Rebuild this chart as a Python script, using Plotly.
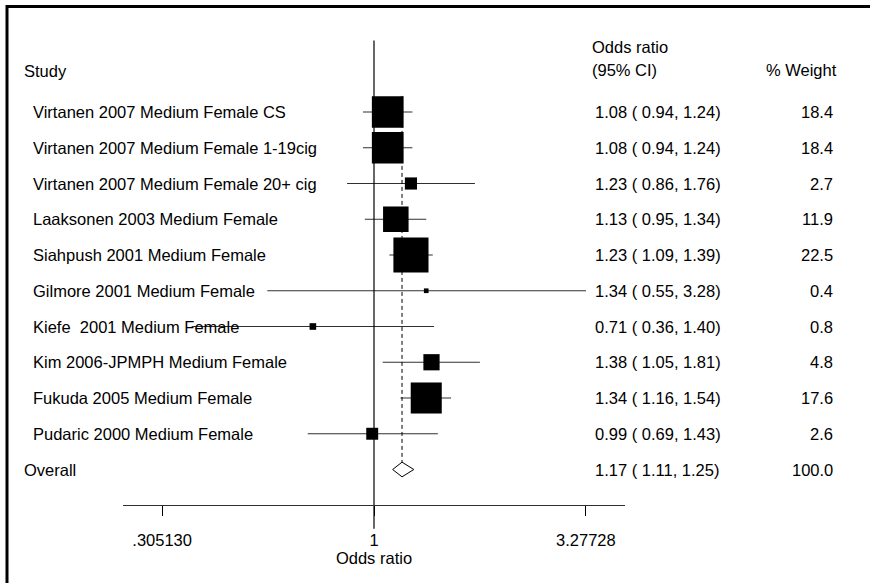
import numpy as np
import plotly.graph_objects as go

# ---------------- data ----------------
studies = [
    "Virtanen 2007 Medium Female CS",
    "Virtanen 2007 Medium Female 1-19cig",
    "Virtanen 2007 Medium Female 20+ cig",
    "Laaksonen 2003 Medium Female",
    "Siahpush 2001 Medium Female",
    "Gilmore 2001 Medium Female",
    "Kiefe  2001 Medium Female",
    "Kim 2006-JPMPH Medium Female",
    "Fukuda 2005 Medium Female",
    "Pudaric 2000 Medium Female",
]
odds_ratio = [1.08, 1.08, 1.23, 1.13, 1.23, 1.34, 0.71, 1.38, 1.34, 0.99]
ci_low = [0.94, 0.94, 0.86, 0.95, 1.09, 0.55, 0.36, 1.05, 1.16, 0.69]
ci_high = [1.24, 1.24, 1.76, 1.34, 1.39, 3.28, 1.40, 1.81, 1.54, 1.43]
weights = [18.4, 18.4, 2.7, 11.9, 22.5, 0.4, 0.8, 4.8, 17.6, 2.6]

overall_label = "Overall"
overall_or = 1.17
overall_low = 1.11
overall_high = 1.25
overall_weight = 100.0

tick_vals = [0.305130, 1, 3.27728]
tick_text = [".305130", "1", "3.27728"]

# ---------------- layout constants ----------------
W, H = 870, 583
FONT = "Liberation Sans, Arial, sans-serif"
FS = 16.5
n = len(studies)
row_top_px, row_step_px = 112, 35.75
y_range = [(H - row_top_px) / row_step_px, -row_top_px / row_step_px]
x_dom = [123 / W, 625 / W]
x_range = [-0.6107, 0.6107]  # log10 units

fig = go.Figure()

# CI lines
xs, ys = [], []
for i in range(n):
    xs += [ci_low[i], ci_high[i], None]
    ys += [i, i, None]
fig.add_trace(go.Scatter(x=xs, y=ys, mode="lines",
                         line=dict(color="#303030", width=1.2),
                         hoverinfo="skip", showlegend=False))

# reference line at OR = 1
fig.add_trace(go.Scatter(x=[1, 1], y=[-2.0, n + 1.66], mode="lines",
                         line=dict(color="black", width=1.2),
                         hoverinfo="skip", showlegend=False))

# overall dashed line
dh = 0.205
fig.add_trace(go.Scatter(x=[overall_or, overall_or], y=[-0.45, n - dh], mode="lines",
                         line=dict(color="black", width=1, dash="4px,3px"),
                         hoverinfo="skip", showlegend=False))

# weight boxes
fig.add_trace(go.Scatter(x=odds_ratio, y=list(range(n)), mode="markers",
                         marker=dict(symbol="square", color="black", opacity=1,
                                     size=[7.4 * np.sqrt(w) for w in weights],
                                     line=dict(width=0)),
                         opacity=1, hoverinfo="skip", showlegend=False))

# overall diamond
fig.add_trace(go.Scatter(x=[overall_low, overall_or, overall_high, overall_or, overall_low],
                         y=[n, n - dh, n, n + dh, n], mode="lines",
                         line=dict(color="black", width=1),
                         hoverinfo="skip", showlegend=False))

# ---------------- text ----------------
ann = []
def txt(x_px, y, s, anchor="left"):
    ann.append(dict(x=x_px / W, xref="paper", y=y, yref="y", text=s,
                    showarrow=False, xanchor=anchor, yanchor="middle",
                    font=dict(family=FONT, size=FS, color="black")))

txt(22, -1.15, "Study")
txt(590, -1.82, "Odds ratio")
txt(590, -1.17, "(95% CI)")
txt(839, -1.17, "% Weight", "right")
for i in range(n):
    txt(31, i, studies[i])
    txt(593, i, f"{odds_ratio[i]:.2f} ( {ci_low[i]:.2f}, {ci_high[i]:.2f})")
    txt(835, i, f"{weights[i]:.1f}", "right")
txt(22, n, overall_label)
txt(593, n, f"{overall_or:.2f} ( {overall_low:.2f}, {overall_high:.2f})")
txt(835, n, f"{overall_weight:.1f}", "right")

fig.update_layout(
    width=W, height=H,
    margin=dict(l=0, r=0, t=0, b=0),
    paper_bgcolor="white", plot_bgcolor="white",
    showlegend=False,
    annotations=ann,
    font=dict(family=FONT, size=FS, color="black"),
    xaxis=dict(type="log", range=x_range, domain=x_dom,
               anchor="free", position=(H - 505) / H,
               showgrid=False, zeroline=False,
               showline=True, linecolor="#303030", linewidth=1.2,
               ticks="outside", ticklen=10, tickwidth=1, tickcolor="black",
               tickvals=tick_vals, ticktext=tick_text,
               ticklabelstandoff=10, automargin=False,
               tickfont=dict(family=FONT, size=FS, color="black"),
               title=dict(text="Odds ratio", standoff=0,
                          font=dict(family=FONT, size=FS, color="black"))),
    yaxis=dict(range=y_range, domain=[0, 1], visible=False, automargin=False),
    shapes=[dict(type="rect", xref="paper", yref="paper",
                 x0=7 / W, x1=1.05, y0=-0.05, y1=(H - 6.5) / H,
                 line=dict(color="black", width=3), layer="above")],
)

fig.write_html("out.html")
